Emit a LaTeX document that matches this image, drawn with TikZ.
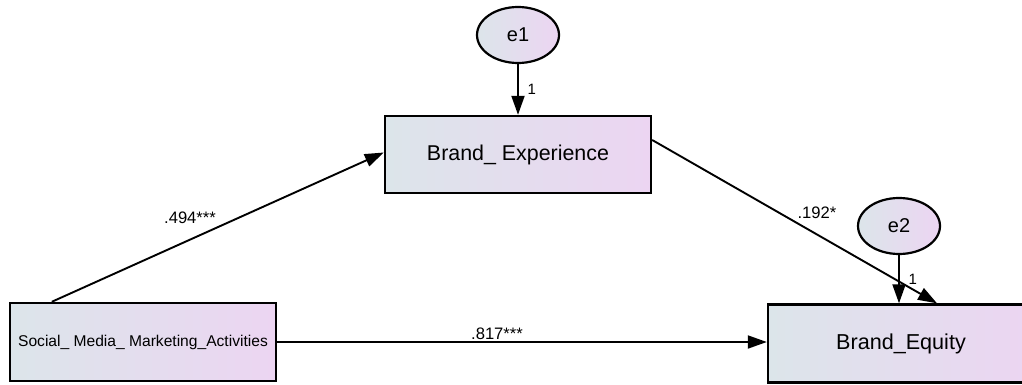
\documentclass[tikz,border=0pt]{standalone}
\usepackage{fontspec}
\setmainfont{Liberation Sans}
\usepackage{xcolor}
\usepackage{tikz}
\usetikzlibrary{arrows.meta,shapes.geometric}
\definecolor{varleft}{HTML}{DCE5EA}
\definecolor{varright}{HTML}{ECD5F2}

\begin{document}
\begin{tikzpicture}[x=0.5pt,y=-0.5pt,every node/.style={font=\fontsize{8.3}{10}\selectfont},
  obsvar/.style={draw,line width=1.2pt,left color=varleft,right color=varright,
    minimum width=133pt,minimum height=38.5pt,inner sep=0pt},
  errvar/.style={draw,ellipse,line width=1.1pt,left color=varleft,right color=varright,
    minimum width=41pt,minimum height=28pt,inner sep=0pt,font=\fontsize{10}{12}\selectfont},
  regpath/.style={-{Triangle[length=9.5pt,width=6.5pt]},line width=0.95pt}]
  \useasboundingbox (0,0) rectangle (1022,385);
  \clip (0,0) rectangle (1022,385);
  \node[obsvar,font=\fontsize{10.7}{12}\selectfont] (exp) at (518,154.5) {Brand\_ Experience};
  \node[obsvar,font=\fontsize{7.8}{9}\selectfont,minimum height=39pt] (smma) at (143,342) {Social\_ Media\_ Marketing\_Activities};
  \node[obsvar,font=\fontsize{10.8}{12}\selectfont,minimum height=39pt] (equity) at (901,343.5) {Brand\_Equity};
  \node[errvar] (e1) at (518,35) {e1};
  \node[errvar] (e2) at (899,226) {e2};
  \draw[regpath] (e1) -- (exp) node[midway,right,xshift=1pt,font=\fontsize{7.5}{9}\selectfont] {1};
  \draw[regpath] (e2) -- (e2.south |- equity.north) node[midway,right,xshift=1pt,font=\fontsize{7.5}{9}\selectfont] {1};
  \draw[regpath] ([xshift=21.5pt]smma.north west) -- ([yshift=1pt]exp.west);
  \draw[regpath] ([yshift=7.25pt]exp.east) -- ([xshift=18pt]equity.north);
  \draw[regpath] (smma.east) -- (smma.east -| equity.west);
  \node (b1) at (190,218) {.494***};
  \node (b2) at (817,213) {.192*};
  \node (b3) at (497,334) {.817***};
\end{tikzpicture}
\end{document}
